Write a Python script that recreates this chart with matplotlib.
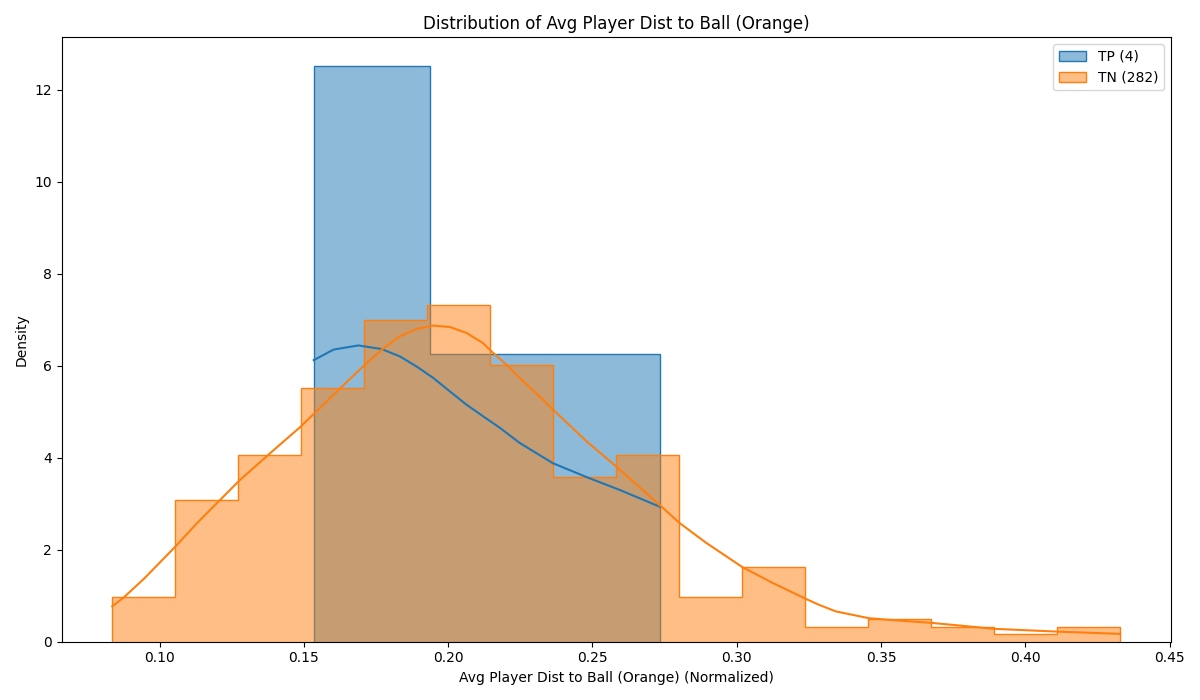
import numpy as np
import matplotlib
matplotlib.use("Agg")
import matplotlib.pyplot as plt
from matplotlib.patches import Patch

# histogram counts
tp_n = 4
tp_range = (0.1536, 0.2735)
tp_counts = [2, 1, 1]

tn_n = 282
tn_range = (0.0836, 0.4329)
tn_counts = [6, 19, 25, 34, 43, 45, 37, 22, 25, 6, 10, 2, 3, 2, 1, 2]

# kde curves (x, density)
tp_kde_x = [0.1534, 0.1603, 0.1689, 0.1770, 0.1833, 0.1891, 0.1949, 0.2006,
            0.2064, 0.2121, 0.2179, 0.2225, 0.2248, 0.2363, 0.2479, 0.2594,
            0.2735]
tp_kde_y = [6.12, 6.35, 6.44, 6.36, 6.20, 5.98, 5.73, 5.44,
            5.15, 4.90, 4.65, 4.43, 4.32, 3.88, 3.58, 3.30,
            2.93]

tn_kde_x = [0.0836, 0.0877, 0.0946, 0.1055, 0.1130, 0.1211, 0.1274, 0.1378,
            0.1488, 0.1626, 0.1718, 0.1776, 0.1833, 0.1891, 0.1949, 0.2006,
            0.2064, 0.2121, 0.2150, 0.2202, 0.2248, 0.2317, 0.2369, 0.2479,
            0.2582, 0.2735, 0.2802, 0.2894, 0.3020, 0.3124, 0.3240, 0.3286,
            0.3343, 0.3459, 0.3562, 0.3674, 0.3893, 0.4110, 0.4329]
tn_kde_y = [0.77, 0.97, 1.37, 2.07, 2.58, 3.09, 3.49, 4.07,
            4.67, 5.51, 6.06, 6.38, 6.64, 6.80, 6.87, 6.84,
            6.71, 6.49, 6.31, 6.02, 5.73, 5.33, 5.01, 4.36,
            3.81, 2.96, 2.58, 2.15, 1.62, 1.28, 0.93, 0.80,
            0.66, 0.51, 0.46, 0.41, 0.28, 0.22, 0.17]

blue = "#1f77b4"
orange = "#ff7f0e"


def density(counts, n, rng):
    edges = np.linspace(rng[0], rng[1], len(counts) + 1)
    width = edges[1] - edges[0]
    return np.asarray(counts) / (n * width), edges


fig, ax = plt.subplots(figsize=(12, 7), dpi=100)

tp_dens, tp_edges = density(tp_counts, tp_n, tp_range)
tn_dens, tn_edges = density(tn_counts, tn_n, tn_range)

ax.stairs(tp_dens, tp_edges, fill=True, facecolor=matplotlib.colors.to_rgba(blue, 0.5),
          edgecolor=blue, linewidth=1)
ax.stairs(tn_dens, tn_edges, fill=True, facecolor=matplotlib.colors.to_rgba(orange, 0.5),
          edgecolor=orange, linewidth=1)

ax.plot(tp_kde_x, tp_kde_y, color=blue, linewidth=1.5)
ax.plot(tn_kde_x, tn_kde_y, color=orange, linewidth=1.5)

lo, hi = tn_range
pad = (hi - lo) * 0.05
ax.set_xlim(lo - pad, hi + pad)
ax.set_ylim(0, max(tp_dens.max(), tn_dens.max()) * 1.05)

handles = [Patch(facecolor=matplotlib.colors.to_rgba(blue, 0.5), edgecolor=blue,
                 label=f"TP ({tp_n})"),
           Patch(facecolor=matplotlib.colors.to_rgba(orange, 0.5), edgecolor=orange,
                 label=f"TN ({tn_n})")]
ax.legend(handles=handles, loc="upper right")

ax.set_title("Distribution of Avg Player Dist to Ball (Orange)")
ax.set_xlabel("Avg Player Dist to Ball (Orange) (Normalized)")
ax.set_ylabel("Density")

plt.tight_layout()
plt.savefig("out.png")
